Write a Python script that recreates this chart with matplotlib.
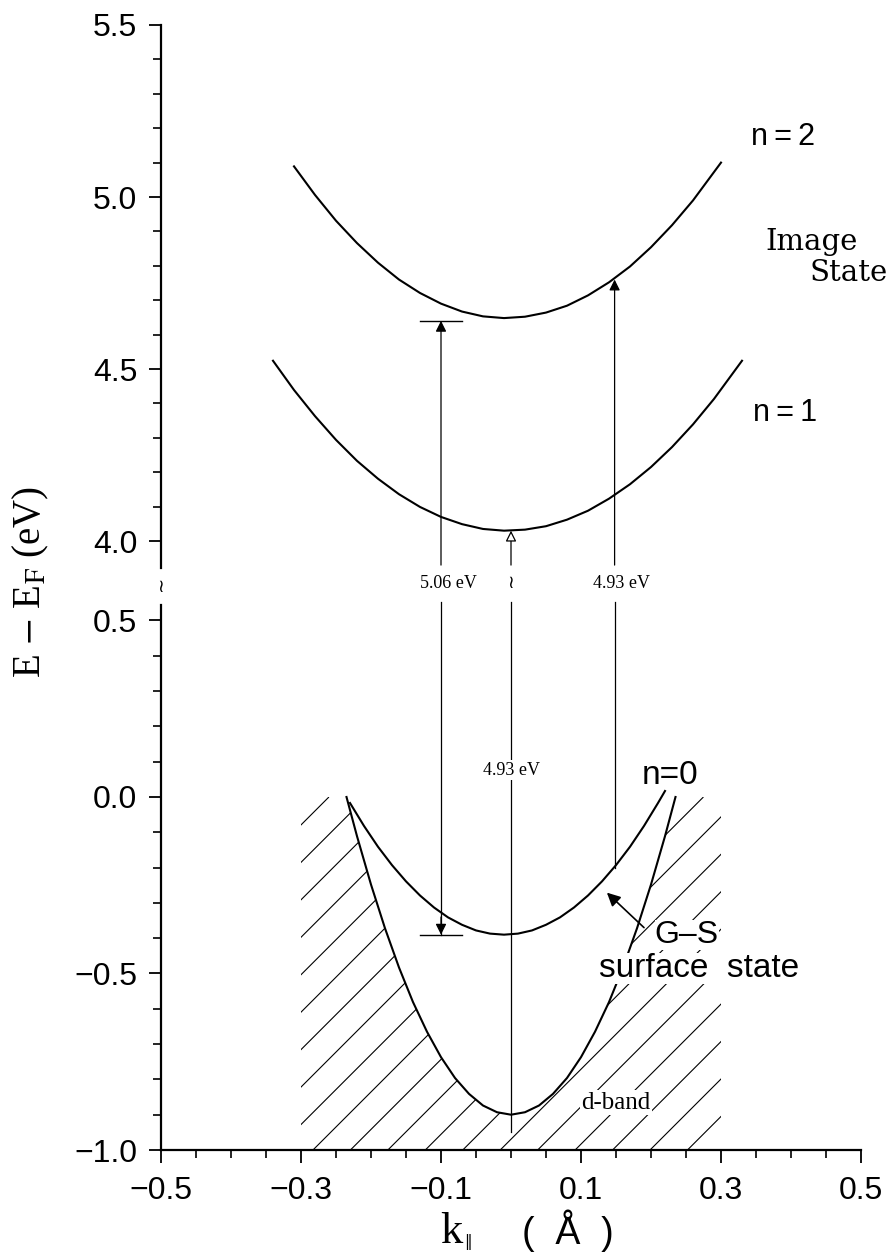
import numpy as np
import matplotlib.pyplot as plt
from matplotlib.collections import LineCollection
from matplotlib.patches import Polygon

plt.rcParams['font.family'] = ['Liberation Sans', 'DejaVu Sans']
plt.rcParams['mathtext.fontset'] = 'stix'

# band dispersions (k in 1/A, E - E_F in eV)
n2_k = [-0.31, -0.28, -0.25, -0.22, -0.19, -0.16, -0.13, -0.10, -0.07, -0.04, -0.01,
        0.02, 0.05, 0.08, 0.11, 0.14, 0.17, 0.20, 0.23, 0.26, 0.30]
n2_E = [5.089, 5.006, 4.931, 4.866, 4.809, 4.760, 4.721, 4.690, 4.667, 4.653, 4.648,
        4.652, 4.664, 4.684, 4.714, 4.752, 4.798, 4.854, 4.918, 4.990, 5.100]

n1_k = [-0.34, -0.31, -0.28, -0.25, -0.22, -0.19, -0.16, -0.13, -0.10, -0.07, -0.04, -0.01,
        0.02, 0.05, 0.08, 0.11, 0.14, 0.17, 0.20, 0.23, 0.26, 0.29, 0.33]
n1_E = [4.524, 4.439, 4.363, 4.294, 4.233, 4.181, 4.136, 4.099, 4.070, 4.049, 4.035, 4.030,
        4.033, 4.043, 4.062, 4.088, 4.123, 4.165, 4.215, 4.273, 4.339, 4.413, 4.524]

n0_k = [-0.23, -0.21, -0.19, -0.17, -0.15, -0.13, -0.11, -0.09, -0.07, -0.05, -0.03, -0.01,
        0.01, 0.03, 0.05, 0.07, 0.09, 0.11, 0.13, 0.15, 0.17, 0.19, 0.21, 0.22]
n0_E = [-0.017, -0.082, -0.141, -0.193, -0.239, -0.279, -0.313, -0.341, -0.362, -0.378, -0.387, -0.390,
        -0.387, -0.378, -0.362, -0.341, -0.313, -0.279, -0.239, -0.193, -0.141, -0.082, -0.017, 0.017]

dband_k = [-0.235, -0.22, -0.20, -0.18, -0.16, -0.14, -0.12, -0.10, -0.08, -0.06, -0.04, -0.02, 0.0,
           0.02, 0.04, 0.06, 0.08, 0.10, 0.12, 0.14, 0.16, 0.18, 0.20, 0.22, 0.235]
dband_E = [0.000, -0.111, -0.248, -0.372, -0.483, -0.581, -0.665, -0.737, -0.796, -0.841, -0.874, -0.893, -0.900,
           -0.893, -0.874, -0.841, -0.796, -0.737, -0.665, -0.581, -0.483, -0.372, -0.248, -0.111, 0.000]

# transitions: k position, lower and upper energy, label
trans_k = [-0.10, 0.0, 0.148]
trans_lo = [-0.39, -0.95, -0.20]
trans_hi = [4.64, 4.03, 4.76]
trans_labels = ['5.06 eV', '\u2240', '4.93 eV']

# hatched projected bulk band
hatch_k = [-0.30, 0.30]
hatch_E = [-1.0, 0.0]

ytick_vals = [-1.0, -0.5, 0.0, 0.5, 4.0, 4.5, 5.0, 5.5]
ytick_labels = ['\u22121.0', '\u22120.5', '0.0', '0.5', '4.0', '4.5', '5.0', '5.5']
xtick_vals = [-0.5, -0.3, -0.1, 0.1, 0.3, 0.5]
xtick_labels = ['\u22120.5', '\u22120.3', '\u22120.1', '0.1', '0.3', '0.5']

# broken energy axis: [-1.0, 0.5] below, [4.0, 5.5] above (slightly compressed)
GAP = 0.2252
R_UP = 0.9745


def yb(E):
    E = np.asarray(E, dtype=float)
    return np.where(E > 2.0, 0.5 + GAP + (E - 4.0) * R_UP, E)


W, H = 888, 1253
fig = plt.figure(figsize=(W / 100, H / 100), dpi=100)
ax = fig.add_axes([161 / W, 103 / H, 700 / W, 1125 / H])
ax.set_xlim(-0.5, 0.5)
ytop = float(yb(5.5))
ax.set_ylim(-1.0, ytop)

for s in ['top', 'right', 'left']:
    ax.spines[s].set_visible(False)
ax.spines['bottom'].set_linewidth(1.6)
# left axis drawn in two pieces with a break mark
ax.plot([-0.5, -0.5], [-1.0, 0.544], color='k', lw=1.6, clip_on=False)
ax.plot([-0.5, -0.5], [0.649, ytop], color='k', lw=1.6, clip_on=False)
ax.text(-0.5, 0.596, '\u2240', ha='center', va='center', fontsize=13, family='DejaVu Sans')

ax.set_yticks(yb(ytick_vals))
ax.set_yticklabels(ytick_labels)
ax.set_yticks(np.concatenate([yb(np.arange(-1.0, 0.51, 0.1)), yb(np.arange(4.0, 5.51, 0.1))]), minor=True)
ax.set_xticks(xtick_vals)
ax.set_xticklabels(xtick_labels)
ax.set_xticks(np.arange(-0.5, 0.51, 0.05), minor=True)
ax.tick_params(axis='both', which='major', length=9, width=1.3, labelsize=23, direction='out')
ax.tick_params(axis='both', which='minor', length=6, width=1.2, direction='out')
ax.tick_params(axis='y', which='major', pad=8)
ax.tick_params(axis='x', which='major', pad=10)

# hatched region outside the d-band parabola
verts = [(hatch_k[0], hatch_E[0]), (hatch_k[0], hatch_E[1])] + list(zip(dband_k, dband_E)) + \
        [(hatch_k[1], hatch_E[1]), (hatch_k[1], hatch_E[0])]
region = Polygon(verts, closed=True, facecolor='none', edgecolor='none')
ax.add_patch(region)
slope = 700 / 353
starts = 0.0916 + 0.0535 * np.arange(-20, 8)
segs = [[(k0, -1.0), (k0 + 1.0 / slope, 0.0)] for k0 in starts]
lc = LineCollection(segs, colors='k', linewidths=0.8)
ax.add_collection(lc)
lc.set_clip_path(region)

# bands
for k, E in [(n2_k, n2_E), (n1_k, n1_E), (n0_k, n0_E), (dband_k, dband_E)]:
    ax.plot(k, yb(E), color='k', lw=1.5)

# transition arrows, broken where they cross the axis break
gap_lo, gap_hi, gap_mid = 0.552, 0.657, 0.606
heads = ['k', 'white', 'k']
for k, lo, hi, lab, fc in zip(trans_k, trans_lo, trans_hi, trans_labels, heads):
    ax.plot([k, k], [lo, gap_lo], color='k', lw=0.9)
    ax.annotate('', xy=(k, float(yb(hi))), xytext=(k, gap_hi),
                arrowprops=dict(arrowstyle='-|>', fc=fc, ec='k', lw=0.9, shrinkA=0, shrinkB=0,
                                mutation_scale=16))
    if lab == '\u2240':
        ax.text(k, gap_mid, lab, ha='center', va='center', fontsize=13, family='DejaVu Sans')
    else:
        ax.text(k + 0.01, gap_mid, lab, ha='center', va='center', fontsize=13,
                family='Liberation Serif')

# level bars for the 5.06 eV transition, with a head on the lower one too
for E in [trans_hi[0], trans_lo[0]]:
    ax.plot([-0.13, -0.07], [yb(E), yb(E)], color='k', lw=1.0)
ax.annotate('', xy=(trans_k[0], trans_lo[0]), xytext=(trans_k[0], trans_lo[0] + 0.05),
            arrowprops=dict(arrowstyle='-|>', color='k', lw=0.9, shrinkA=0, shrinkB=0,
                            mutation_scale=16))

ax.text(0.0, 0.076, '4.93 eV', ha='center', va='center', fontsize=13, family='Liberation Serif',
        bbox=dict(facecolor='white', edgecolor='none', pad=1))

# labels
ax.text(0.389, yb(5.175), 'n\u2009=\u20092', ha='center', va='center', fontsize=22)
ax.text(0.391, yb(4.372), 'n\u2009=\u20091', ha='center', va='center', fontsize=22)
ax.text(0.227, 0.061, 'n=0', ha='center', va='center', fontsize=24)
ax.text(0.429, yb(4.87), 'Image', ha='center', va='center', fontsize=21, family='DejaVu Serif')
ax.text(0.483, yb(4.78), 'State', ha='center', va='center', fontsize=21, family='DejaVu Serif',
        clip_on=False)
ax.text(0.251, -0.392, 'G\u2013S', ha='center', va='center', fontsize=23,
        bbox=dict(facecolor='white', edgecolor='none', pad=0))
ax.text(0.268, -0.486, 'surface  state', ha='center', va='center', fontsize=24,
        bbox=dict(facecolor='white', edgecolor='none', pad=0))
ax.annotate('', xy=(0.137, -0.271), xytext=(0.190, -0.370),
            arrowprops=dict(arrowstyle='-|>', color='k', lw=1.2, shrinkA=0, shrinkB=0,
                            mutation_scale=20))
ax.text(0.150, -0.866, 'd-band', ha='center', va='center', fontsize=18, family='Liberation Serif',
        bbox=dict(facecolor='white', edgecolor='none', pad=1))

# axis titles
fig.text(31 / W, 1 - 582 / H, r'E $-$ E$_{\mathrm{F}}$ (eV)', rotation=90, ha='center', va='center',
         fontsize=28, family='Liberation Serif')
fig.text(451 / W, 1 - 1232 / H, 'k', ha='center', va='center', fontsize=32, family='Liberation Serif')
fig.text(468 / W, 1 - 1242 / H, '\u2016', ha='center', va='center', fontsize=11, family='DejaVu Sans')
fig.text(568 / W, 1 - 1231 / H, '(  \u00c5  )', ha='center', va='center', fontsize=27)

fig.savefig('out.png', dpi=100)
